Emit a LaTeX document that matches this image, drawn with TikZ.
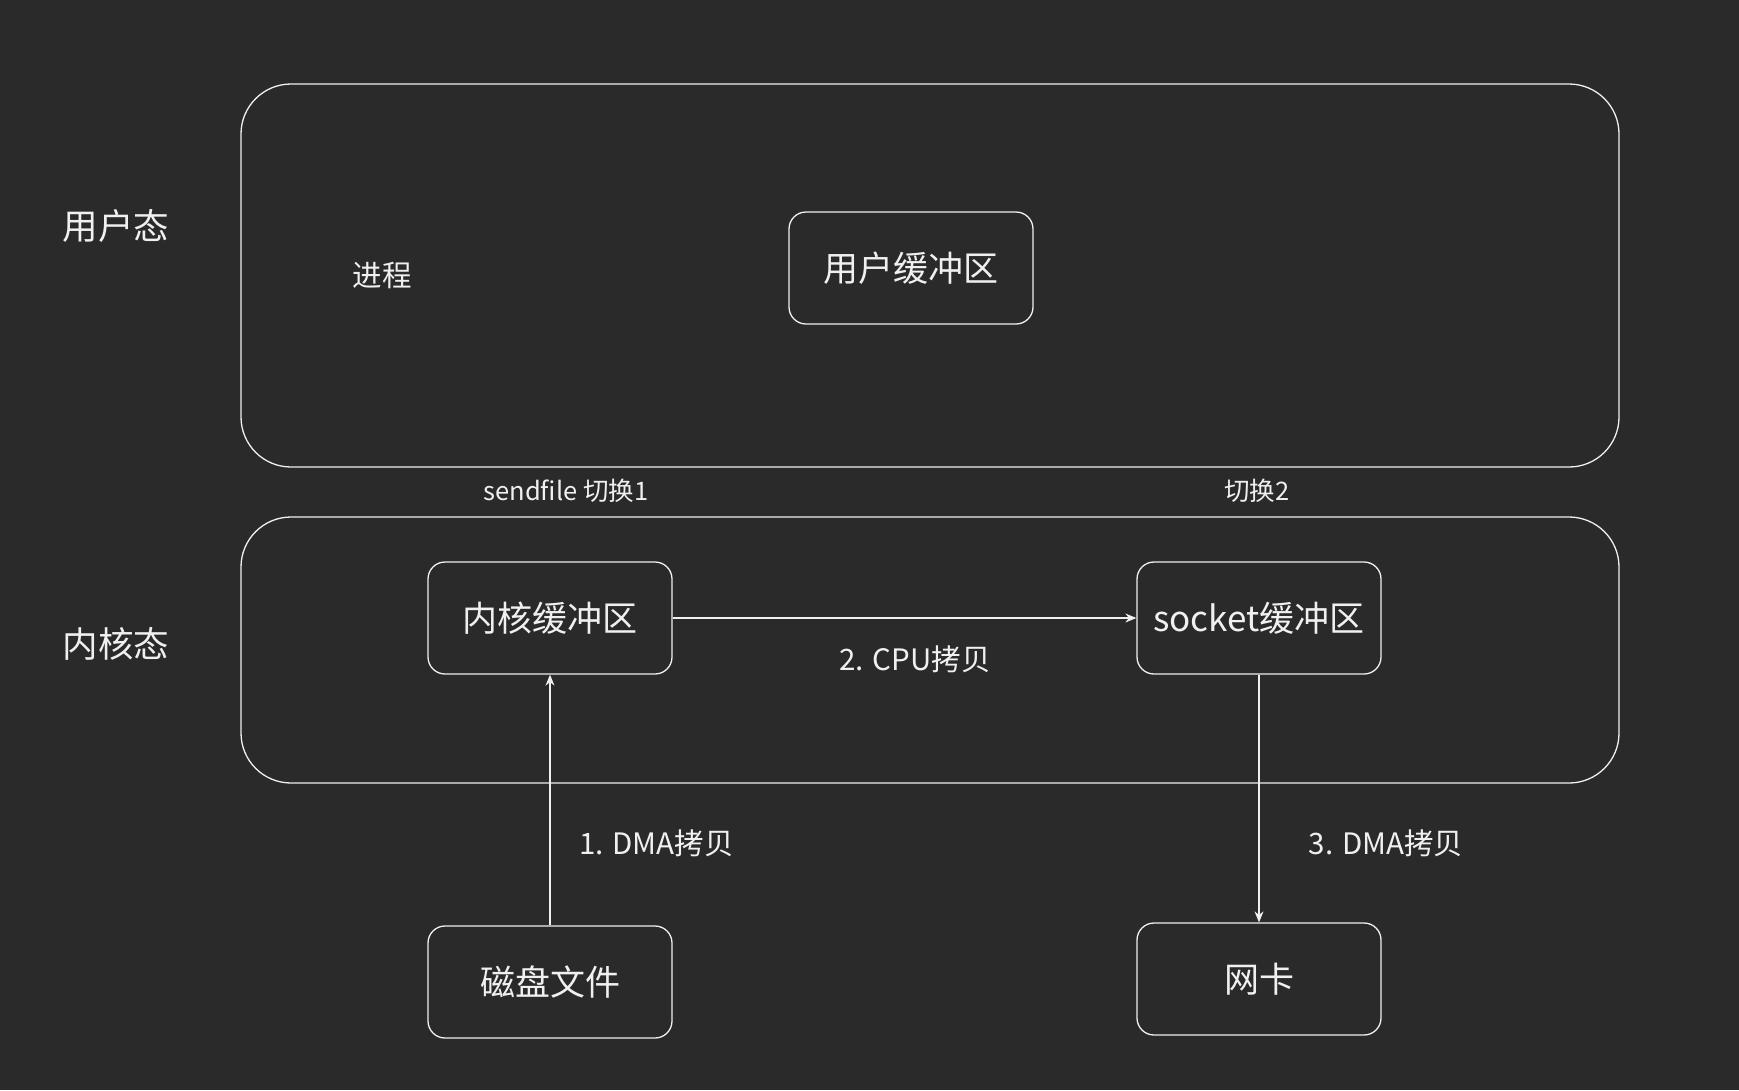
\documentclass[tikz,border=0pt]{standalone}
\usepackage{fontspec}
\setmainfont{Noto Sans CJK SC}
\usetikzlibrary{arrows.meta}
\definecolor{bg}{HTML}{2A2A2A}
\definecolor{fg}{HTML}{F0F0F0}
\begin{document}
\begin{tikzpicture}[x=1pt,y=-1pt,
  region/.style={draw=fg,line width=1.3pt,rounded corners=50pt},
  buf/.style={draw=fg,line width=1.3pt,rounded corners=17pt,minimum width=244pt,minimum height=112pt,inner sep=0pt,text=fg,font=\fontsize{35}{40}\selectfont},
  lbl/.style={text=fg,inner sep=0pt},
  flow/.style={draw=fg,line width=1.1pt,-{Stealth[length=11pt,width=9pt]}}]
\fill[bg] (0,0) rectangle (1739,1090);
\useasboundingbox (0,0) rectangle (1739,1090);
\draw[region] (241,84) rectangle (1619,467);
\draw[region] (241,517) rectangle (1619,783);
\node[lbl,font=\fontsize{35.5}{40}\selectfont] (us) at (116,226) {用户态};
\node[lbl,font=\fontsize{35.5}{40}\selectfont] (ks) at (116,644) {内核态};
\node[lbl,font=\fontsize{29.5}{34}\selectfont] (proc) at (382,275) {进程};
\node[buf] (ub) at (911,268) {用户缓冲区};
\node[lbl,font=\fontsize{25.5}{30}\selectfont] (sw1) at (566,491) {sendfile 切换1};
\node[lbl,font=\fontsize{25.5}{30}\selectfont] (sw2) at (1257,491) {切换2};
\node[buf] (kb) at (550,618) {内核缓冲区};
\node[buf] (sb) at (1259,618) {socket缓冲区};
\node[buf] (disk) at (550,982) {磁盘文件};
\node[buf] (nic) at (1259,979) {网卡};
\draw[flow] (disk) -- (kb);
\draw[flow] (kb) -- (sb);
\draw[flow] (sb) -- (nic);
\node[lbl,font=\fontsize{29.5}{34}\selectfont,anchor=west] (l1) at (579,843) {1. DMA拷贝};
\node[lbl,font=\fontsize{29.5}{34}\selectfont] (l2) at (915,659) {2. CPU拷贝};
\node[lbl,font=\fontsize{29.5}{34}\selectfont] (l3) at (1386,843) {3. DMA拷贝};
\end{tikzpicture}
\end{document}
